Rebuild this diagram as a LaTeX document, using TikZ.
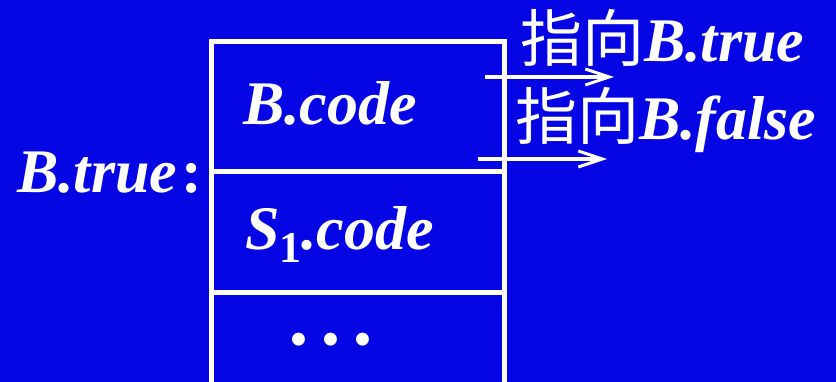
\documentclass[tikz,border=0pt]{standalone}
\usepackage{fontspec}
\setmainfont{Liberation Serif}
\newfontfamily\cjk{Noto Sans CJK SC}
\usetikzlibrary{arrows.meta}
\definecolor{bgblue}{RGB}{6,6,228}
\tikzset{
  cell/.style={draw=white, line width=5pt, inner sep=0pt, outer sep=0pt, anchor=north west, minimum width=292.5pt},
  lbl/.style={text=white, inner sep=0pt, outer sep=0pt, anchor=base west, font=\fontsize{62}{70}\selectfont\bfseries\itshape},
  tag/.style={text=white, inner sep=0pt, outer sep=0pt, anchor=base west, font=\fontsize{62}{70}\selectfont\bfseries\itshape},
  arr/.style={draw=white, line width=4pt, -{Straight Barb[length=24pt,width=16pt,line width=3pt]}}
}
\begin{document}
\begin{tikzpicture}[x=1pt,y=-1pt]
\useasboundingbox (0,0) rectangle (836,382);
\fill[bgblue] (0,0) rectangle (836,382);
\clip (0,0) rectangle (836,382);
% cells
\node[cell, minimum height=130.5pt] (c1) at (211.5,41.5) {};
\node[cell, minimum height=121pt] (c2) at (211.5,172) {};
\node[cell, minimum height=140pt] (c3) at (211.5,293) {};
% cell texts
\node[lbl] (tb) at (243,125) {B.code};
\node[lbl] (ts) at (245,250) {S\raisebox{-13pt}{\fontsize{44}{44}\selectfont\upshape 1}.code};
\node[text=white, inner sep=0pt, font=\fontsize{54}{60}\selectfont] (td) at (331,345) {•\hspace{13.1pt}•\hspace{13.1pt}•};
% left label
\node[lbl] (lt) at (17,193) {B.true\hspace{4pt}\upshape:};
% arrows
\coordinate (a1s) at (485,77);
\coordinate (a1e) at (614,77);
\coordinate (a2s) at (478,159);
\coordinate (a2e) at (607,159);
\draw[arr] (a1s) -- (a1e);
\draw[arr] (a2s) -- (a2e);
% arrow labels
\node[tag] (l1) at (520,62) {{\cjk\mdseries\upshape 指向}B.true};
\node[tag] (l2) at (515,140) {{\cjk\mdseries\upshape 指向}B.false};
\end{tikzpicture}
\end{document}
